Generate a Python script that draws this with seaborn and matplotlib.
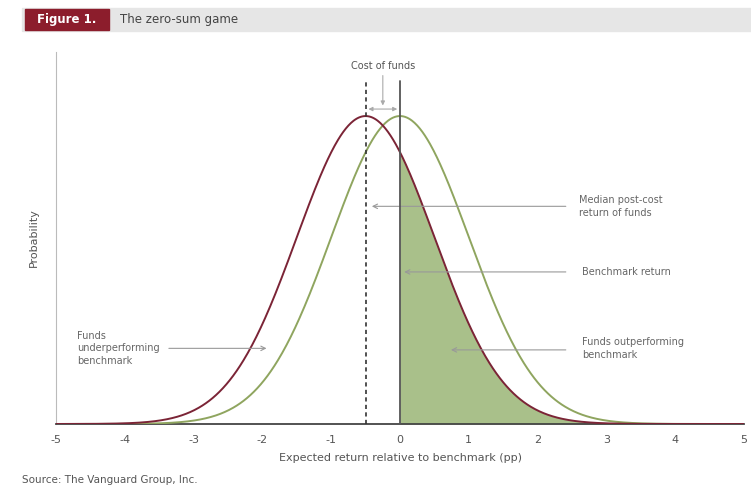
import numpy as np
import pandas as pd
import matplotlib.pyplot as plt
import seaborn as sns
from matplotlib.patches import Rectangle

# distribution parameters (pp)
series = ['Benchmark', 'Post-cost funds']
means = [0.0, -0.5]
sds = [1.0, 1.0]
colors = ['#8fa55f', '#7b2436']
xticks = [-5, -4, -3, -2, -1, 0, 1, 2, 3, 4, 5]

grid = np.linspace(-5, 5, 801)
frames = []
for name, mu, sd in zip(series, means, sds):
    pdf = np.exp(-0.5 * ((grid - mu) / sd) ** 2) / (sd * np.sqrt(2 * np.pi))
    frames.append(pd.DataFrame({'x': grid, 'y': pdf, 'series': name}))
df = pd.concat(frames, ignore_index=True)

sns.set_style('white')
plt.rcParams['font.family'] = ['DejaVu Sans']

fig = plt.figure(figsize=(7.51, 4.90), dpi=100)
ax = fig.add_axes([0.0746, 0.1347, 0.9161, 0.7593])

# shaded area: funds beating the benchmark
post = df[(df['series'] == 'Post-cost funds') & (df['x'] >= 0)]
ax.fill_between(post['x'], 0, post['y'], color='#a9c08a', lw=0, zorder=1)

sns.lineplot(data=df, x='x', y='y', hue='series', palette=dict(zip(series, colors)),
             lw=1.4, legend=False, ax=ax, zorder=3)

ax.set_xlim(-5, 5)
ax.set_ylim(0, 0.482)
ax.set_xticks(xticks)
ax.set_xticklabels([str(t) for t in xticks], color='#555555', fontsize=8)
ax.set_yticks([])
ax.tick_params(axis='x', length=4, color='#bbbbbb', direction='out', pad=4)
for s in ['top', 'right']:
    ax.spines[s].set_visible(False)
ax.spines['left'].set_color('#bbbbbb')
ax.spines['bottom'].set_color('#444444')
ax.spines['bottom'].set_linewidth(1.3)
ax.set_xlabel('Expected return relative to benchmark (pp)', fontsize=8, color='#555555', labelpad=6)
ax.set_ylabel('Probability', fontsize=8, color='#555555', labelpad=12)

# vertical markers
ax.plot([-0.5, -0.5], [0, 0.445], ls=(0, (2.5, 2)), color='#333333', lw=1.2, zorder=4)
ax.plot([0, 0], [0, 0.445], color='#555555', lw=1.3, zorder=4)

# cost of funds
ax.text(-0.25, 0.464, 'Cost of funds', ha='center', va='center', fontsize=7, color='#555555')
ax.annotate('', xy=(-0.25, 0.409), xytext=(-0.25, 0.455),
            arrowprops=dict(arrowstyle='-|>', color='#aaaaaa', lw=0.8, mutation_scale=6))
ax.annotate('', xy=(-0.5, 0.408), xytext=(0, 0.408),
            arrowprops=dict(arrowstyle='<|-|>', color='#aaaaaa', lw=0.8, mutation_scale=6))

txt = dict(fontsize=7, color='#666666', va='center', ha='left', linespacing=1.3)
arr = dict(arrowstyle='->', color='#999999', lw=0.8, mutation_scale=8)

ax.annotate('', xy=(-0.45, 0.282), xytext=(2.45, 0.282), arrowprops=arr)
ax.text(2.6, 0.282, 'Median post-cost\nreturn of funds', **txt)

ax.annotate('', xy=(0.02, 0.197), xytext=(2.45, 0.197), arrowprops=arr)
ax.text(2.65, 0.197, 'Benchmark return', **txt)

ax.annotate('', xy=(0.7, 0.096), xytext=(2.45, 0.096), arrowprops=arr)
ax.text(2.65, 0.098, 'Funds outperforming\nbenchmark', **txt)

ax.annotate('', xy=(-1.9, 0.098), xytext=(-3.4, 0.098), arrowprops=arr)
ax.text(-4.7, 0.098, 'Funds\nunderperforming\nbenchmark', **txt)

# header bar
fig.patches.append(Rectangle((22 / 751, 1 - 31 / 490), 729 / 751, 23 / 490,
                             transform=fig.transFigure, color='#e6e6e6', zorder=0))
fig.patches.append(Rectangle((25 / 751, 1 - 30 / 490), 84 / 751, 21 / 490,
                             transform=fig.transFigure, color='#8c1d2c', zorder=1))
fig.text(67 / 751, 1 - 19.5 / 490, 'Figure 1.', color='white', fontsize=8.5,
         fontweight='bold', ha='center', va='center')
fig.text(120 / 751, 1 - 19.5 / 490, 'The zero-sum game', color='#444444', fontsize=8.5,
         ha='left', va='center')

fig.text(22 / 751, 1 - 480 / 490, 'Source: The Vanguard Group, Inc.', color='#555555',
         fontsize=7.5, ha='left', va='center')

fig.savefig('out.png', dpi=100)
